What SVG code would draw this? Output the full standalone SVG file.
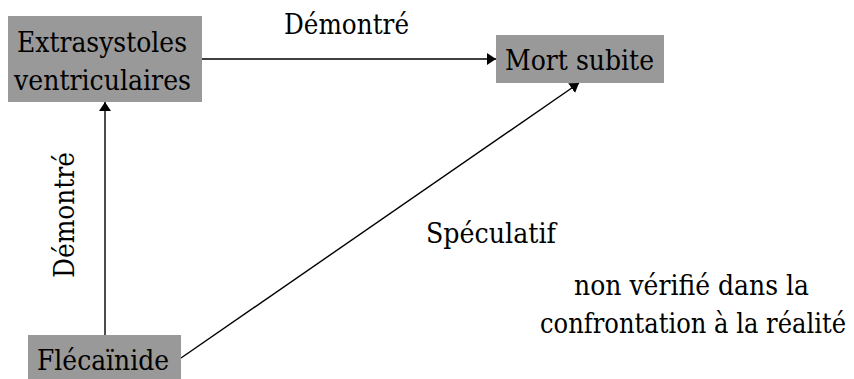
<svg xmlns="http://www.w3.org/2000/svg" width="854" height="379" viewBox="0 0 854 379">
<style>
.box{fill:#999999;stroke:none}
.t{font-family:'DejaVu Serif',serif;font-size:28px;fill:#000;text-anchor:middle}
.c{stroke:#000;stroke-width:1.4;fill:none;marker-end:url(#ah)}
</style>
<defs>
<marker id="ah" markerUnits="userSpaceOnUse" markerWidth="10" markerHeight="12" refX="9" refY="6" orient="auto">
<path d="M0,0 L9,6 L0,12 Z" fill="#000"/>
</marker>
</defs>
<rect width="854" height="379" fill="#fff"/>
<g id="connectors">
<line class="c" x1="202" y1="59" x2="496" y2="59"/>
<line class="c" x1="105" y1="335" x2="105" y2="102"/>
<line class="c" x1="181" y1="358" x2="579" y2="83"/>
</g>
<g id="extrasystoles">
<rect class="box" x="8" y="16" width="194" height="86"/>
<text class="t" x="102" y="52" textLength="170" lengthAdjust="spacingAndGlyphs">Extrasystoles</text>
<text class="t" x="102.5" y="90" textLength="177" lengthAdjust="spacingAndGlyphs">ventriculaires</text>
</g>
<g id="mort-subite">
<rect class="box" x="496" y="35" width="168" height="48"/>
<text class="t" x="579.5" y="70" textLength="149" lengthAdjust="spacingAndGlyphs">Mort subite</text>
</g>
<g id="flecainide">
<rect class="box" x="28" y="335" width="153" height="44"/>
<text class="t" x="103" y="370" textLength="132" lengthAdjust="spacingAndGlyphs">Flécaïnide</text>
</g>
<g id="labels">
<text class="t" x="346.5" y="34" textLength="125" lengthAdjust="spacingAndGlyphs">Démontré</text>
<text class="t" transform="translate(74,215) rotate(-90)" textLength="126" lengthAdjust="spacingAndGlyphs">Démontré</text>
<text class="t" x="491" y="243" textLength="130" lengthAdjust="spacingAndGlyphs">Spéculatif</text>
<text class="t" x="691.5" y="295" textLength="235" lengthAdjust="spacingAndGlyphs">non vérifié dans la</text>
<text class="t" x="693" y="333" textLength="306" lengthAdjust="spacingAndGlyphs">confrontation à la réalité</text>
</g>
</svg>
